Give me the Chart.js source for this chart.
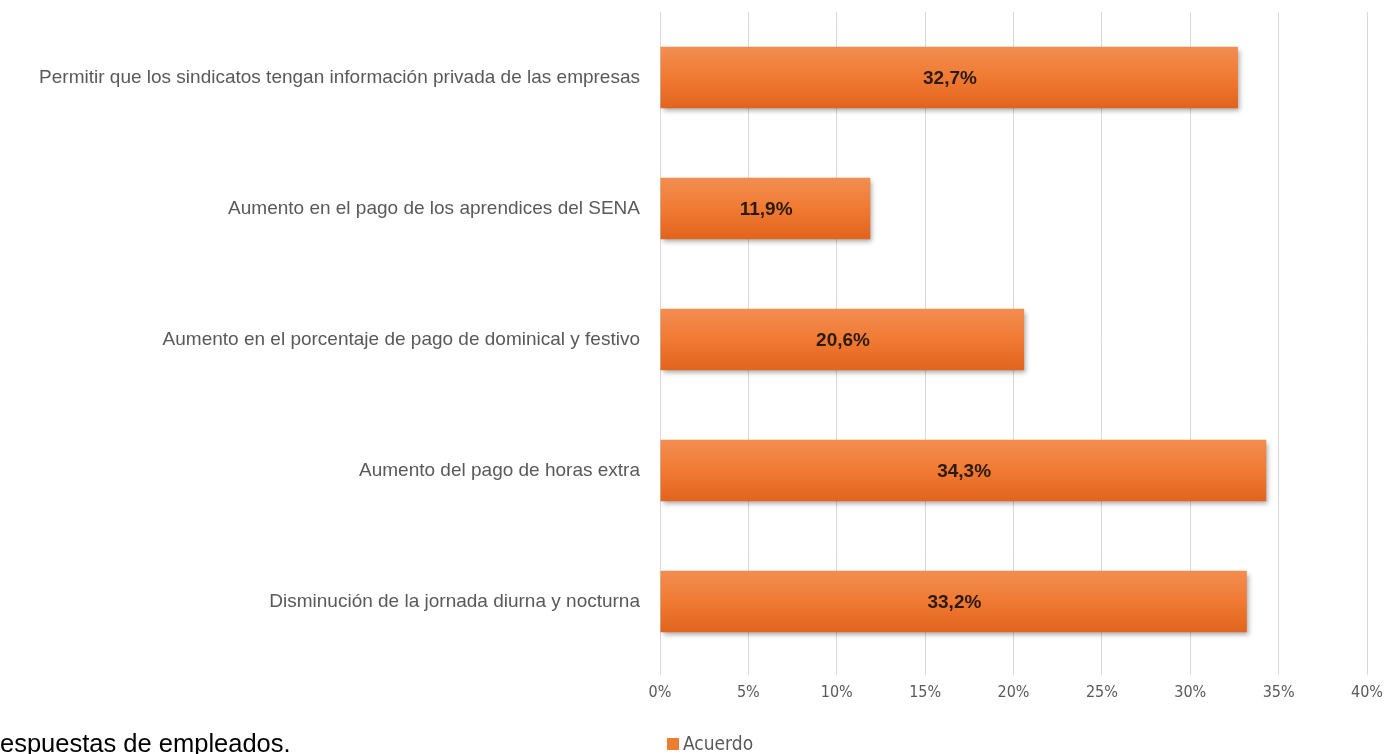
<!DOCTYPE html>
<html>
<head>
<meta charset="utf-8">
<script src="https://cdn.jsdelivr.net/npm/chart.js@4/dist/chart.umd.min.js"></script>
<style>
  html, body { margin: 0; padding: 0; background: #fff; overflow: hidden; }
  #wrap { position: relative; width: 1391px; height: 754px; }
  #chart { position: absolute; left: 0; top: 0; }
  #caption {
    position: absolute; left: 0; top: 731px;
    font-family: "Liberation Sans", Arial, sans-serif;
    font-size: 25.5px; line-height: 25px; color: #000; white-space: nowrap;
  }
  #legend {
    position: absolute; left: 667px; top: 733px;
    font-family: "Liberation Sans Narrow", "DejaVu Sans Condensed", sans-serif;
    font-size: 19px; line-height: 20px; color: #595959; white-space: nowrap;
  }
  #legend span.box {
    display: inline-block; width: 12px; height: 12px; background: #ED7D31;
    margin-right: 4px; vertical-align: 0px;
  }
</style>
</head>
<body>
<div id="wrap">
  <canvas id="chart" width="1391" height="754"></canvas>
  <div id="caption">espuestas de empleados.</div>
  <div id="legend"></div>
</div>
<script>
const categories = [
  "Permitir que los sindicatos tengan información privada de las empresas",
  "Aumento en el pago de los aprendices del SENA",
  "Aumento en el porcentaje de pago de dominical y festivo",
  "Aumento del pago de horas extra",
  "Disminución de la jornada diurna y nocturna",
];
const acuerdo = [32.7, 11.9, 20.6, 34.3, 33.2];
const seriesName = "Acuerdo";
const xMax = 40;
const xStep = 5;

const narrowFont = '"Liberation Sans Narrow", "DejaVu Sans Condensed", sans-serif';
const labelFont = '"Liberation Sans", Arial, sans-serif';

function barFill(context) {
  const chart = context.chart;
  const y = chart.scales.y;
  if (!y || !chart.chartArea) return "#ED7D31";
  const idx = context.dataIndex;
  const meta = chart.getDatasetMeta(context.datasetIndex);
  const el = meta.data[idx];
  const h = el && el.height ? el.height : 60;
  const cy = y.getPixelForValue(idx);
  const g = chart.ctx.createLinearGradient(0, cy - h / 2, 0, cy + h / 2);
  g.addColorStop(0, "#F28D50");
  g.addColorStop(0.5, "#F07A33");
  g.addColorStop(1, "#E2641E");
  return g;
}

// sombra de las barras
const barShadow = {
  id: "barShadow",
  beforeDatasetDraw(chart) {
    const ctx = chart.ctx;
    ctx.save();
    ctx.shadowColor = "rgba(0,0,0,0.35)";
    ctx.shadowBlur = 5;
    ctx.shadowOffsetX = 2;
    ctx.shadowOffsetY = 3;
  },
  afterDatasetDraw(chart) {
    chart.ctx.restore();
  },
};

// etiquetas de valor en el centro de cada barra
const valueLabels = {
  id: "valueLabels",
  afterDatasetsDraw(chart) {
    const ctx = chart.ctx;
    const meta = chart.getDatasetMeta(0);
    ctx.save();
    ctx.font = 'bold 19px "Liberation Sans", Arial, sans-serif';
    ctx.fillStyle = "#2b1a10";
    ctx.textAlign = "center";
    ctx.textBaseline = "middle";
    meta.data.forEach((bar, i) => {
      const v = acuerdo[i];
      const x0 = chart.scales.x.getPixelForValue(0);
      const x1 = chart.scales.x.getPixelForValue(v);
      const txt = v.toFixed(1).replace(".", ",") + "%";
      ctx.fillText(txt, (x0 + x1) / 2 + 1, bar.y + 1);
    });
    ctx.restore();
  },
};

document.getElementById("legend").innerHTML =
  `<span class="box"></span>${seriesName}`;

const ctx = document.getElementById("chart").getContext("2d");
const chart = new Chart(ctx, {
  type: "bar",
  data: {
    labels: categories,
    datasets: [{
      label: seriesName,
      data: acuerdo,
      backgroundColor: barFill,
      borderWidth: 0,
      categoryPercentage: 0.47,
      barPercentage: 1,
    }],
  },
  options: {
    indexAxis: "y",
    responsive: false,
    animation: false,
    events: [],
    layout: { padding: { top: 12, right: 19, left: 0, bottom: 31 } },
    scales: {
      x: {
        min: 0,
        max: xMax,
        ticks: {
          stepSize: xStep,
          padding: 8,
          color: "#595959",
          font: { family: narrowFont, size: 16 },
          callback: (v) => v + "%",
        },
        grid: { color: "#d9d9d9", lineWidth: 1, tickLength: 8, drawTicks: true },
        border: { display: false },
        afterFit: (scale) => { scale.height = 56; },
      },
      y: {
        ticks: {
          padding: 12,
          color: "#595959",
          font: { family: labelFont, size: 19 },
        },
        grid: { display: false },
        border: { display: false },
        afterFit: (scale) => {
          scale.width = 660;
          scale.paddingTop = 0;
          scale.paddingBottom = 0;
        },
      },
    },
    plugins: {
      legend: { display: false },
      tooltip: { enabled: false },
    },
  },
  plugins: [barShadow, valueLabels],
});
</script>
</body>
</html>
